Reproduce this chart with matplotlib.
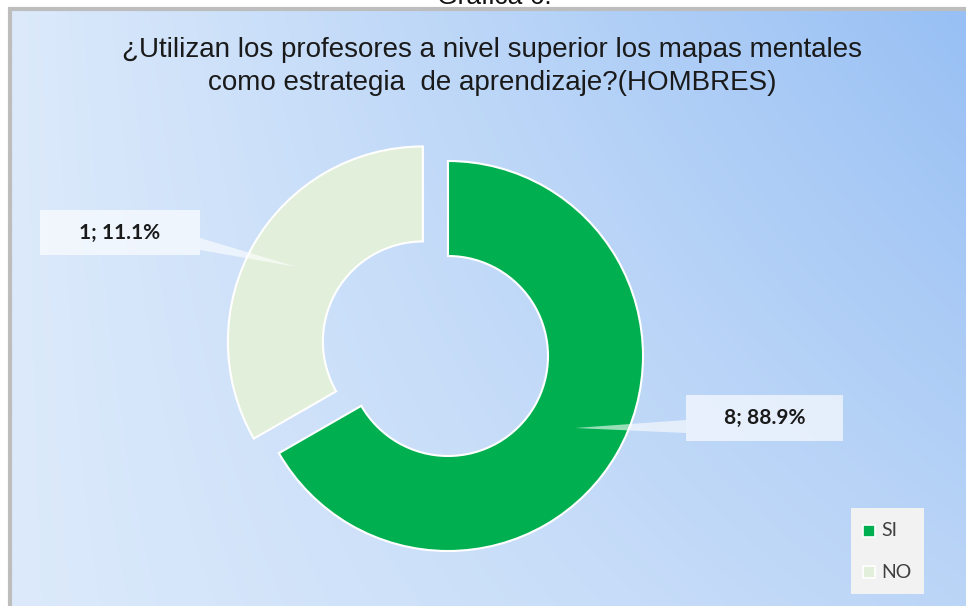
import numpy as np
import matplotlib
matplotlib.use("Agg")
import matplotlib.pyplot as plt
from matplotlib.patches import Rectangle, Polygon
from matplotlib.colors import to_rgb

# ---- data ----
categories = ["SI", "NO"]
counts = [8, 1]
percents = [88.9, 11.1]
drawn_share = [66.7, 33.3]   # angular share of each ring segment as drawn in the reference
colors = ["#00B050", "#E2EFDA"]
title_lines = ["¿Utilizan los profesores a nivel superior los mapas mentales",
               "como estrategia  de aprendizaje?(HOMBRES)"]
header = "Gráfica 6."

W, H = 966, 606
fig = plt.figure(figsize=(W / 100, H / 100), dpi=100)
fig.patch.set_facecolor("white")
ax = fig.add_axes([0, 0, 1, 1])

def Y(y):  # image row -> data y
    return H - y

# ---- background gradient of chart area ----
tl, tr = np.array(to_rgb("#DCEAFB")), np.array(to_rgb("#98C0F4"))
bl, br = np.array(to_rgb("#DCEAFB")), np.array(to_rgb("#BBD5F7"))
nx, ny = 200, 120
u = np.linspace(0, 1, nx)[None, :, None]
v = np.linspace(0, 1, ny)[:, None, None]
img = (1 - v) * ((1 - u) * tl + u * tr) + v * ((1 - u) * bl + u * br)
x0, ytop = 11, 10
ax.imshow(img, extent=(x0, W, 0, Y(ytop)), origin="upper", aspect="auto", zorder=0,
          interpolation="bilinear")
ax.plot([x0 - 1.5, x0 - 1.5, W], [0, Y(ytop - 1.5), Y(ytop - 1.5)], color="#BDBDBD",
        lw=3, zorder=1, solid_joinstyle="miter")

# ---- header (cut off at top, as in the reference) ----
ax.text(494, Y(4), header, ha="center", va="baseline", fontsize=19,
        family="Liberation Sans", color="#111111", zorder=2)

# ---- title ----
for line, base in zip(title_lines, [57, 90]):
    ax.text(492, Y(base), line, ha="center", va="baseline", fontsize=20,
            family="Liberation Sans", color="#1a1a1a", zorder=2)

# ---- donut ----
R, r_in = 195, 100
wedges, _ = ax.pie(drawn_share, colors=colors, startangle=90, counterclock=False,
                   center=(448, Y(356)), radius=R, explode=[0, 29], frame=True,
                   wedgeprops=dict(width=R - r_in, edgecolor="white", linewidth=1.5))
for w in wedges:
    w.set_zorder(3)

# ---- callout labels ----
label_texts = [f"{c}; {p:.1f}%" for c, p in zip(counts, percents)]
boxes = [(686, 395, 843, 441), (40, 210, 200, 255)]
callouts = [[(686, 420), (686, 433), (575, 428)],
            [(200, 238), (200, 250), (297, 267)]]
for txt, (bx0, by0, bx1, by1), poly in zip(label_texts, boxes, callouts):
    ax.add_patch(Polygon([(px, Y(py)) for px, py in poly], closed=True,
                         facecolor="white", edgecolor="none", alpha=0.6, zorder=4))
    ax.add_patch(Rectangle((bx0, Y(by1)), bx1 - bx0, by1 - by0, facecolor="white",
                           edgecolor="none", alpha=0.65, zorder=4))
    ax.text((bx0 + bx1) / 2, Y((by0 + by1) / 2), txt, ha="center", va="center",
            fontsize=15, fontweight="bold", family="Lato", color="#1a1a1a", zorder=5)

# ---- legend ----
ax.add_patch(Rectangle((851, Y(594)), 73, 86, facecolor="#F2F2F2", edgecolor="none",
                       zorder=4))
for i, (cat, col) in enumerate(zip(categories, colors)):
    yy = 531 + 41 * i
    ax.add_patch(Rectangle((863, Y(yy + 6)), 12, 12, facecolor=col, edgecolor="white",
                           lw=1.2, zorder=5))
    ax.text(881, Y(yy), cat, ha="left", va="center", fontsize=14, family="Lato",
            color="#404040", zorder=5)

ax.set_xlim(0, W)
ax.set_ylim(0, H)
ax.set_aspect("auto")
ax.axis("off")
fig.savefig("out.png", dpi=100)
